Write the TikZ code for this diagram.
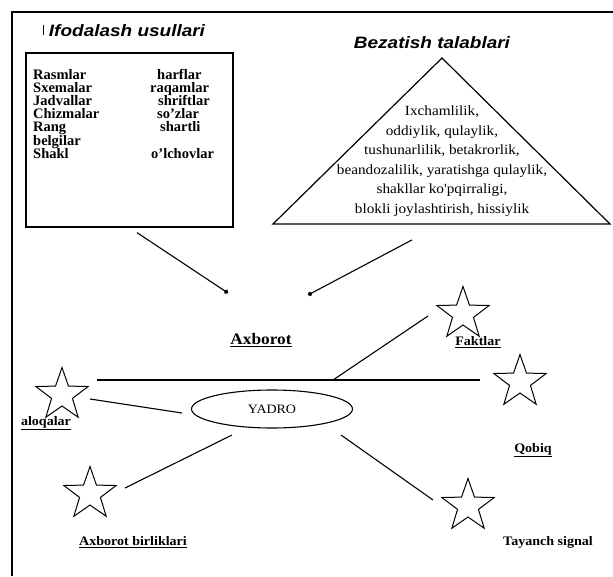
\documentclass[tikz,border=0pt]{standalone}
\usepackage{fontspec}
\setmainfont{Liberation Serif}
\newfontfamily\scanfont[FakeStretch=1.09]{Liberation Serif}
\newfontfamily\scanbold[FakeStretch=1.08, UprightFont={* Bold}]{Liberation Serif}
\newfontfamily\headfont[FakeStretch=1.15]{Liberation Sans}
\usetikzlibrary{calc,shapes.geometric,arrows.meta}
\newcommand{\usulrow}[2]{\makebox[117pt][l]{#1}#2\\}
\tikzset{
    link/.style={draw=black, line width=1.1pt},
    feed/.style={draw=black, -{Circle[length=4.5pt]}, line width=1.1pt},
    starbox/.style={draw=black, star, star points=5, star point ratio=2.5, minimum size=55pt, inner sep=0pt, line width=1pt},
    lbl/.style={inner sep=0pt, font=\scanbold\fontsize{13}{14}\selectfont},
    head/.style={inner sep=0pt, font=\headfont\bfseries\itshape\fontsize{16.5}{18}\selectfont}
}

\begin{document}
\begin{tikzpicture}[x=1pt, y=-1pt]
\useasboundingbox (0,0) rectangle (613,576);

% outer frame (top and left only)
\draw[line width=1.2pt] (12,576) -- (12,12) -- (613,12);

% Titles
\draw[line width=0.6pt] (43,25) -- (43,35);
\node[head] (tUsul) at (127,31) {Ifodalash usullari};
\node[head] (tBez) at (432,43) {Bezatish talablari};

% Left box (Ifodalash usullari)
\node[draw=black, line width=1.3pt, minimum width=207pt, minimum height=174pt, inner sep=0pt] (usul) at (129.5,140) {};
\node[anchor=base west, inner sep=0pt, font=\bfseries\fontsize{14.5}{13.2}\selectfont] (usulList) at (33,79) {%
  \parbox[t]{190pt}{\lineskiplimit=-20pt\lineskip=0pt
  \usulrow{Rasmlar}{\hspace{7pt}harflar}
  \usulrow{Sxemalar}{raqamlar}
  \usulrow{Jadvallar}{\hspace{8pt}shriftlar}
  \usulrow{Chizmalar}{\hspace{7pt}so'zlar}
  \usulrow{Rang}{\hspace{10pt}shartli}
  \usulrow{belgilar}{}
  \makebox[117pt][l]{Shakl}\hspace{1pt}o'lchovlar}};

% Triangle (Bezatish talablari)
\coordinate (triA) at (442,58);
\coordinate (triL) at (273,224);
\coordinate (triR) at (610,224);
\coordinate (triB) at (442,224);
\draw[line width=1.2pt, line join=miter] (triA) -- (triR) -- (triL) -- cycle;
\node[inner sep=0pt, align=center, font=\scanfont\fontsize{14}{19.5}\selectfont] (reqs) at (442,161)
  {Ixchamlilik,\\ oddiylik, qulaylik,\\ tushunarlilik, betakrorlik,\\ beandozalilik, yaratishga qulaylik,\\ shakllar ko'pqirraligi,\\ blokli joylashtirish, hissiylik};

% Axborot
\coordinate (inL) at (228,293);
\coordinate (inR) at (308,295);
\node[lbl, font=\scanbold\fontsize{16}{17}\selectfont] (lAxb) at (261,340) {\underline{Axborot}};
\draw[feed, shorten <=9pt] (usul.south) -- (inL);
\draw[feed, shorten <=34pt] (triB) -- (inR);

% Core and stars
\node[draw=black, ellipse, line width=1.1pt, minimum width=161pt, minimum height=38pt, inner sep=0pt,
      font=\scanfont\fontsize{12.8}{13}\selectfont] (yadro) at (272,409) {YADRO};
\node[starbox] (sAloqa) at (62,395) {};
\node[starbox] (sBirlik) at (90,494) {};
\node[starbox] (sFakt) at (463,314) {};
\node[starbox] (sQobiq) at (520,382) {};
\node[starbox] (sTayanch) at (468,506) {};

\node[lbl] (lAloqa) at (46,423) {\underline{aloqalar}};
\node[lbl] (lBirlik) at (133,542) {\underline{Axborot birliklari}};
\node[lbl] (lFakt) at (478,342) {\underline{Faktlar}};
\node[lbl] (lQobiq) at (533,450) {\underline{Qobiq}};
\node[lbl] (lTayanch) at (548,542) {Tayanch signal};

% Connectors
\coordinate (fork) at (333,380);
\draw[link] ($(sAloqa)+(35,-15)$) -- ($(sQobiq)+(-40,-2)$);
\draw[link] (fork) -- ($(sFakt)+(-35,2)$);
\draw[link] ($(sAloqa)+(28,4)$) -- ($(yadro.west)+(-9,4)$);
\draw[link] ($(sBirlik)+(35,-6)$) -- ($(yadro)+(-40,26)$);
\draw[link] ($(yadro)+(69,26)$) -- ($(sTayanch)+(-35,-6)$);

\end{tikzpicture}
\end{document}
